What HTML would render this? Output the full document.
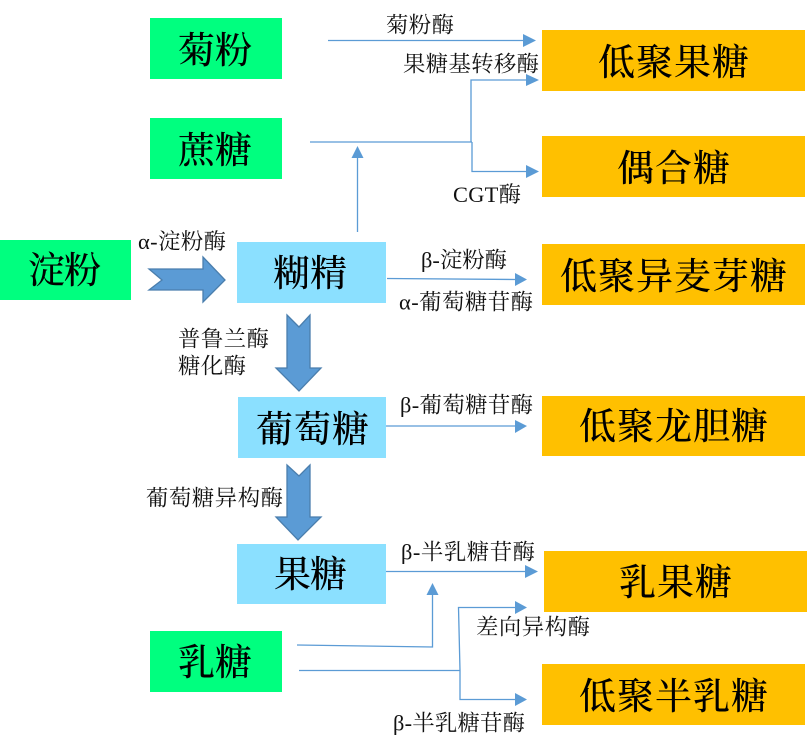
<!DOCTYPE html>
<html lang="zh">
<head>
<meta charset="utf-8">
<style>
html,body{margin:0;padding:0;background:#fff;width:812px;height:751px;overflow:hidden}
svg{display:block}
text{font-family:"Liberation Serif","Noto Serif CJK SC",serif}
.b{font-size:37px;fill:#000;font-weight:500}
.l{font-size:22.4px;fill:#111;font-weight:400}
.c{stroke:#5B9BD5;stroke-width:1.3;fill:none}
.h{fill:#5B9BD5}
.a{fill:#5B9BD5;stroke:#4A7EAD;stroke-width:1.3}
</style>
</head>
<body>
<svg width="812" height="751" viewBox="0 0 812 751" xmlns="http://www.w3.org/2000/svg">
<rect width="812" height="751" fill="#fff"/>
<g fill="#00FF7F">
<rect x="150" y="18" width="132" height="61"/>
<rect x="150" y="118" width="132" height="61"/>
<rect x="0" y="240" width="131" height="60"/>
<rect x="150" y="631" width="132" height="61"/>
</g>
<g fill="#8BE0FF">
<rect x="237" y="242" width="149" height="61"/>
<rect x="238" y="397" width="148" height="61"/>
<rect x="237" y="544" width="149" height="60"/>
</g>
<g fill="#FFC000">
<rect x="542" y="30" width="263" height="61"/>
<rect x="542" y="136" width="263" height="61"/>
<rect x="542" y="244" width="263" height="61"/>
<rect x="542" y="396" width="263" height="60"/>
<rect x="544" y="551" width="263" height="61"/>
<rect x="542" y="664" width="263" height="61"/>
</g>

<path class="c" d="M328 40.5H525"/>
<polygon class="h" points="523,34 536,40.5 523,47"/>
<path class="c" d="M310 142H472M526 80H471V142M472 142V171.5H528"/>
<polygon class="h" points="526,74 539,80 526,86"/>
<polygon class="h" points="526,165 539,171.5 526,178"/>
<path class="c" d="M357.5 232V156"/>
<polygon class="h" points="351.5,158 357.5,146 363.5,158"/>
<path class="c" d="M387 278.5L517 279.5"/>
<polygon class="h" points="515,273 527,279.5 515,286"/>
<path class="c" d="M386 426H517"/>
<polygon class="h" points="515,420 527,426 515,433"/>
<path class="c" d="M386 571.5H527"/>
<polygon class="h" points="525,565 538,571.5 525,578"/>
<path class="c" d="M297 645L432.5 647V593"/>
<polygon class="h" points="426.5,595 432.5,583 438.5,595"/>
<path class="c" d="M299 670.5H460M517 607.5H458.5L460 670.5V699.5H517"/>
<polygon class="h" points="515,601 527,607.5 515,614"/>
<polygon class="h" points="515,693 527,699.5 515,706"/>

<polygon class="a" points="149,269 203,269 203,257 225,280 203,302 203,290 149,290 162,280"/>
<polygon class="a" points="287,315 299,327 310,315 310,368 321,368 299,391 276,368 287,368"/>
<polygon class="a" points="287,465 299,476 310,465 310,517 321,517 298,540 276,517 287,517"/>

<text class="b" x="178" y="63" textLength="74">菊粉</text>
<text class="b" x="178" y="163" textLength="74">蔗糖</text>
<text class="b" x="28" y="283" textLength="73">淀粉</text>
<text class="b" x="178" y="675" textLength="74">乳糖</text>
<text class="b" x="273" y="286" textLength="74">糊精</text>
<text class="b" x="256" y="442" textLength="113">葡萄糖</text>
<text class="b" x="274" y="587" textLength="73">果糖</text>
<text class="b" x="598" y="75" textLength="151">低聚果糖</text>
<text class="b" x="617" y="181" textLength="113">偶合糖</text>
<text class="b" x="560" y="289" textLength="227">低聚异麦芽糖</text>
<text class="b" x="579" y="439" textLength="189">低聚龙胆糖</text>
<text class="b" x="619" y="595" textLength="113">乳果糖</text>
<text class="b" x="579" y="709" textLength="189">低聚半乳糖</text>

<text class="l" x="386" y="32.5" textLength="68">菊粉酶</text>
<text class="l" x="403" y="71.5" textLength="136">果糖基转移酶</text>
<text class="l" x="453" y="202" textLength="68">CGT酶</text>
<text class="l" x="138" y="249" textLength="88">α-淀粉酶</text>
<text class="l" x="421" y="267.5" textLength="86">β-淀粉酶</text>
<text class="l" x="399" y="309.5" textLength="134">α-葡萄糖苷酶</text>
<text class="l" x="400" y="412.5" textLength="133">β-葡萄糖苷酶</text>
<text class="l" x="178" y="346.5" textLength="91">普鲁兰酶</text>
<text class="l" x="178" y="373.5" textLength="68">糖化酶</text>
<text class="l" x="146" y="505.5" textLength="137">葡萄糖异构酶</text>
<text class="l" x="401" y="559.5" textLength="134">β-半乳糖苷酶</text>
<text class="l" x="476" y="634.5" textLength="114">差向异构酶</text>
<text class="l" x="393" y="730.5" textLength="132">β-半乳糖苷酶</text>
</svg>
</body>
</html>
